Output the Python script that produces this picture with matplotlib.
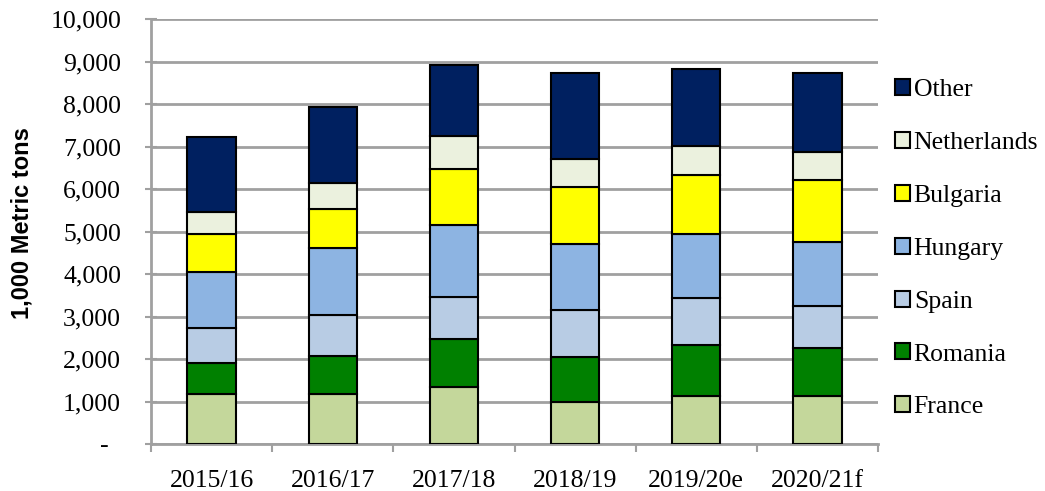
import matplotlib.pyplot as plt
import numpy as np
from matplotlib.patches import Patch
from matplotlib.ticker import FuncFormatter

years = ["2015/16", "2016/17", "2017/18", "2018/19", "2019/20e", "2020/21f"]
france = [1170, 1170, 1340, 980, 1130, 1130]
romania = [730, 910, 1130, 1060, 1200, 1130]
spain = [840, 960, 990, 1120, 1110, 990]
hungary = [1300, 1570, 1690, 1540, 1510, 1510]
bulgaria = [910, 930, 1330, 1350, 1390, 1450]
netherlands = [510, 590, 770, 660, 670, 650]
other = [1770, 1790, 1670, 2030, 1810, 1870]

series = [("France", france, "#c4d79b"),
          ("Romania", romania, "#008000"),
          ("Spain", spain, "#b8cce4"),
          ("Hungary", hungary, "#8db4e2"),
          ("Bulgaria", bulgaria, "#ffff00"),
          ("Netherlands", netherlands, "#ebf1de"),
          ("Other", other, "#002060")]

serif = ["Liberation Serif", "DejaVu Serif"]
fs = 18.5

fig = plt.figure(figsize=(10.45, 4.91), dpi=100)
ax = fig.add_axes([151 / 1045, 1 - 444 / 491, 727 / 1045, 425 / 491])

x = np.arange(len(years))
bottom = np.zeros(len(years))
for name, vals, col in series:
    ax.bar(x, vals, width=0.4, bottom=bottom, color=col, edgecolor="black",
           linewidth=1.5, zorder=3)
    bottom += np.array(vals)

ax.set_xlim(-0.5, 5.5)
ax.set_ylim(0, 10000)
ax.set_yticks(np.arange(0, 10001, 1000))
# excel accounting style: zero shown as a dash
ax.yaxis.set_major_formatter(FuncFormatter(lambda v, p: "-  " if v == 0 else f"{int(v):,}"))
ax.grid(axis="y", color="#a0a0a0", linewidth=2, zorder=0)
ax.set_xticks(x)
ax.set_xticklabels(years)
ax.set_xticks(np.arange(-0.5, 6, 1), minor=True)
ax.tick_params(axis="x", which="major", length=0, pad=19)
ax.tick_params(axis="x", which="minor", length=6, width=1.5, color="#a0a0a0", direction="out")
ax.tick_params(axis="y", length=9, width=1.5, color="#a0a0a0", direction="inout", pad=17)
for lab in ax.get_xticklabels() + ax.get_yticklabels():
    lab.set_family(serif)
    lab.set_fontsize(fs)

for s in ["top", "right"]:
    ax.spines[s].set_visible(False)
for s in ["left", "bottom"]:
    ax.spines[s].set_color("#a0a0a0")
    ax.spines[s].set_linewidth(2)

ax.set_ylabel("1,000 Metric tons", fontsize=17, fontweight="bold",
              family=["Liberation Sans", "DejaVu Sans"])
ax.yaxis.set_label_coords(-0.161, 0.52)

handles = [Patch(facecolor=col, edgecolor="black", linewidth=1.5, label=name)
           for name, vals, col in series[::-1]]
fig.legend(handles=handles, loc="upper left", bbox_to_anchor=(895 / 1045, 1 - 79 / 491),
           frameon=False, prop={"family": serif, "size": fs}, labelspacing=1.2,
           handlelength=0.58, handleheight=0.58, handletextpad=0.15,
           borderaxespad=0, borderpad=0)

fig.savefig("out.png", dpi=100)
